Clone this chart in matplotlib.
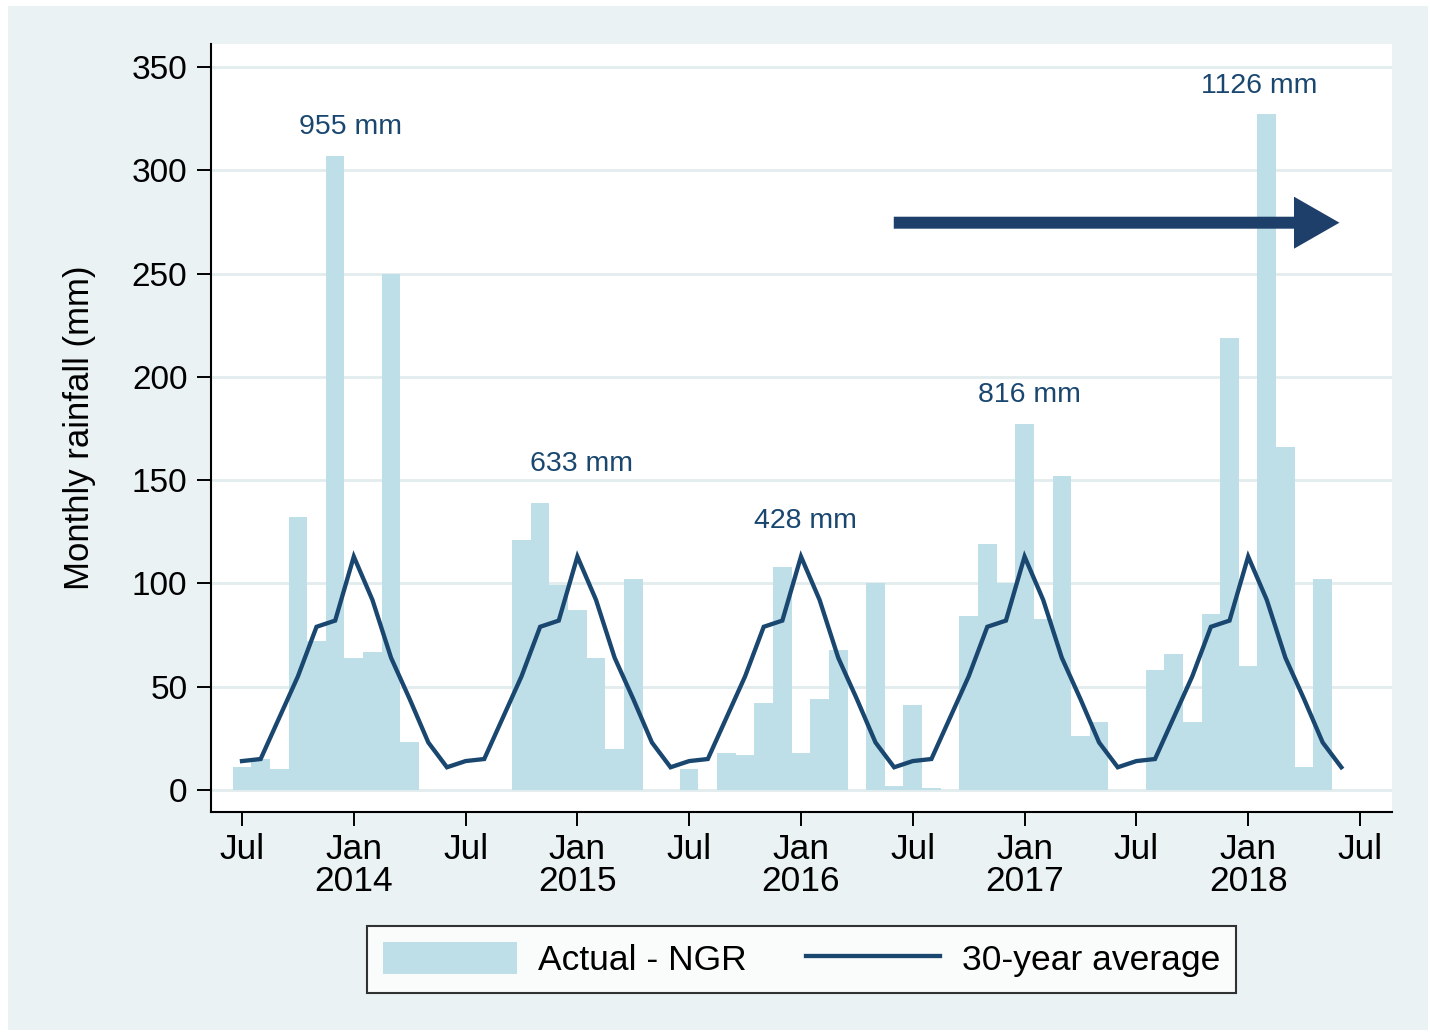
import matplotlib
matplotlib.use("Agg")
import matplotlib.pyplot as plt
from matplotlib import font_manager
from matplotlib.patches import Rectangle

# ---------------- data ----------------
# Months from Jul 2013 to Jun 2018 (index 0 = Jul 2013)
actual_ngr = [
    11, 15, 10, 132, 72, 307, 64, 67, 250, 23, 0, 0,      # Jul 2013 - Jun 2014
    0, 0, 0, 121, 139, 99, 87, 64, 20, 102, 0, 0,         # Jul 2014 - Jun 2015
    10, 0, 18, 17, 42, 108, 18, 44, 68, 0, 100, 2,        # Jul 2015 - Jun 2016
    41, 1, 0, 84, 119, 100, 177, 83, 152, 26, 33, 0,      # Jul 2016 - Jun 2017
    0, 58, 66, 33, 85, 219, 60, 327, 166, 11, 102, 0,     # Jul 2017 - Jun 2018
]
avg_30yr = [
    14, 15, 35, 55, 79, 82, 113, 92, 64, 44, 23, 11,
    14, 15, 35, 55, 79, 82, 113, 92, 64, 44, 23, 11,
    14, 15, 35, 55, 79, 82, 113, 92, 64, 44, 23, 11,
    14, 15, 35, 55, 79, 82, 113, 92, 64, 44, 23, 11,
    14, 15, 35, 55, 79, 82, 113, 92, 64, 44, 23, 11,
]
season_totals = ["955 mm", "633 mm", "428 mm", "816 mm", "1126 mm"]
xtick_labels = ["Jul", "Jan\n2014", "Jul", "Jan\n2015", "Jul", "Jan\n2016",
                "Jul", "Jan\n2017", "Jul", "Jan\n2018", "Jul"]
ytick_values = [0, 50, 100, 150, 200, 250, 300, 350]
legend_labels = ["Actual - NGR", "30-year average"]
ylabel_text = "Monthly rainfall (mm)"

# ---------------- style ----------------
BAR_C = "#BEDFE8"
LINE_C = "#1A476F"
ARROW_C = "#1F3F6B"
BG_C = "#EAF2F3"
GRID_C = "#E2ECEE"

names = {f.name for f in font_manager.fontManager.ttflist}
REG = "Liberation Sans" if "Liberation Sans" in names else "DejaVu Sans"
if "Liberation Sans Narrow" in names:
    NAR, NAR_SIZE = "Liberation Sans Narrow", 30
else:
    NAR, NAR_SIZE = REG, 25.5

W, H = 1430, 1036
fig = plt.figure(figsize=(W / 100, H / 100), dpi=100)
fig.patch.set_facecolor("white")
fig.add_artist(Rectangle((8 / W, 6 / H), (1428 - 8) / W, (1030 - 6) / H,
                         transform=fig.transFigure, facecolor=BG_C,
                         edgecolor="none", zorder=-10))

ax = fig.add_axes([211 / W, (H - 812) / H, (1392 - 211) / W, (812 - 44) / H])
ax.set_facecolor("white")

x = list(range(len(actual_ngr)))
bars = ax.bar(x, actual_ngr, width=1.0, color=BAR_C, edgecolor="none",
              zorder=2)
line, = ax.plot(x, avg_30yr, color=LINE_C, lw=3.1, zorder=3,
                solid_joinstyle="miter")

ax.set_xlim(-1.664, 61.72)
ax.set_ylim(-10.65, 361.1)

ax.set_yticks(ytick_values)
ax.set_yticklabels([str(v) for v in ytick_values], fontsize=24, family=REG)
ax.set_xticks(list(range(0, 61, 6)))
ax.set_xticklabels(xtick_labels, fontsize=NAR_SIZE, family=NAR, linespacing=0.95)

ax.grid(axis="y", color=GRID_C, lw=2.0, zorder=0)
ax.set_axisbelow(True)
for s in ["top", "right"]:
    ax.spines[s].set_visible(False)
for s in ["left", "bottom"]:
    ax.spines[s].set_linewidth(1.5)
    ax.spines[s].set_color("black")
ax.tick_params(axis="y", length=10, width=1.4, pad=7, colors="black")
ax.tick_params(axis="x", length=10, width=1.4, pad=5, colors="black")

ax.set_ylabel(ylabel_text, fontsize=25, family=REG)
ax.yaxis.set_label_coords(-0.097, 0.5)

# season total annotations
ann_x = [5.84, 18.24, 30.26, 42.26, 54.58]
ann_y = [321, 158, 130, 191, 341]
for tx, ty, lab in zip(ann_x, ann_y, season_totals):
    ax.text(tx, ty, lab, color=LINE_C, fontsize=20.5, family=REG,
            ha="center", va="center", zorder=5)

# trend arrow
ax.arrow(34.98, 274.6, 58.9 - 34.98, 0, width=5.8, head_width=25.2,
         head_length=2.44, length_includes_head=True, color=ARROW_C,
         lw=0, zorder=6)

fs_px = NAR_SIZE * 100 / 72
leg = fig.legend([bars, line], legend_labels, loc="center",
                 bbox_to_anchor=(801.5 / W, (H - 959.5) / H),
                 ncol=2, frameon=True, fancybox=False,
                 prop={"family": NAR, "size": NAR_SIZE},
                 handlelength=134 / fs_px, handleheight=35 / fs_px,
                 handletextpad=22 / fs_px, columnspacing=59 / fs_px,
                 borderpad=0.45)
leg.get_frame().set_edgecolor("black")
leg.get_frame().set_linewidth(1.5)
leg.get_frame().set_facecolor("white")

fig.savefig("out.png", dpi=100, facecolor=fig.get_facecolor())
